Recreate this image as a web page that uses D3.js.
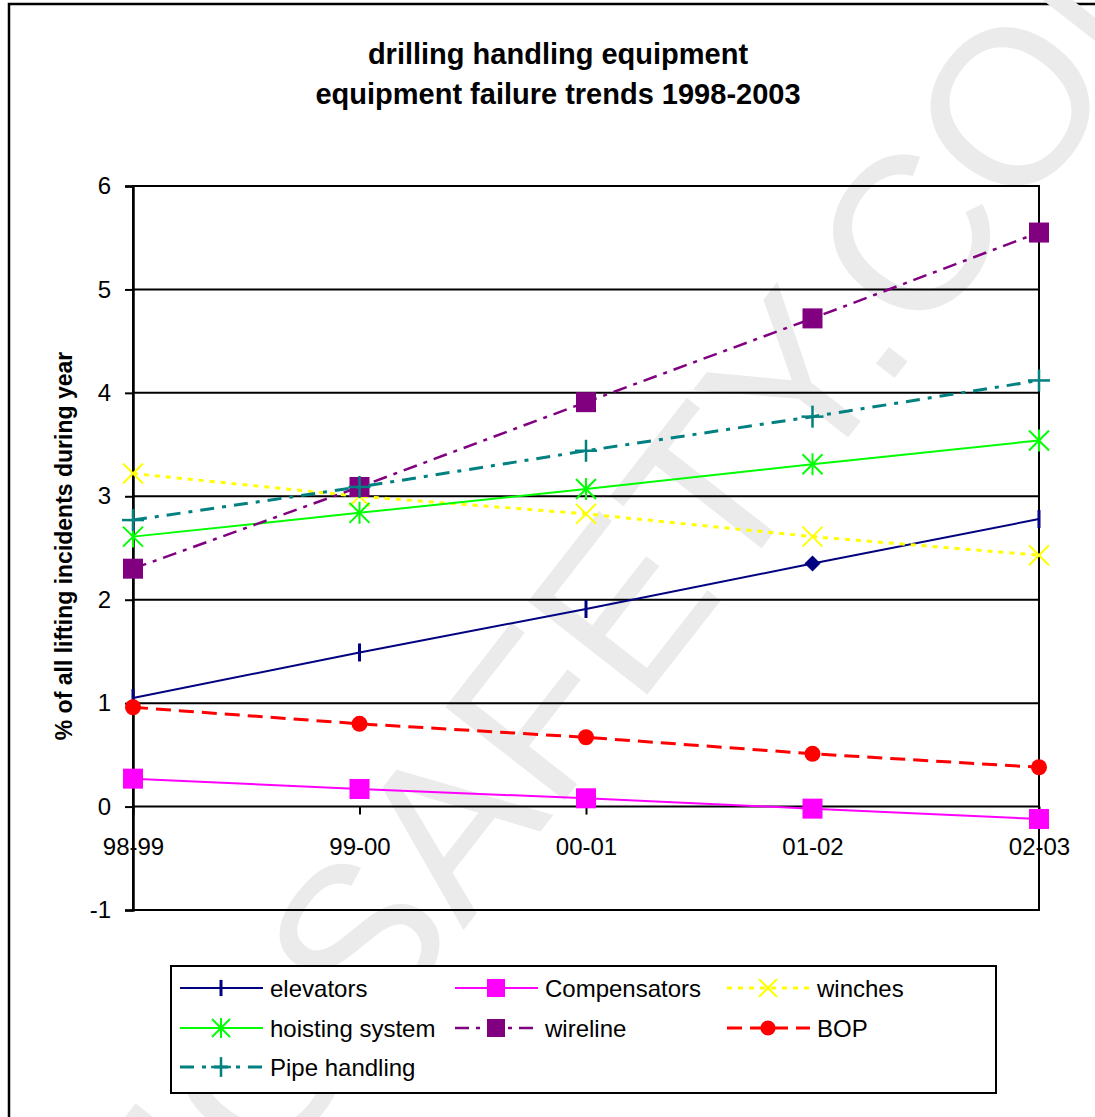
<!DOCTYPE html>
<html>
<head>
<meta charset="utf-8">
<script src="https://cdn.jsdelivr.net/npm/d3@7"></script>
<style>
  body { margin: 0; background: #fff; }
  svg { display: block; }
  text { font-family: Arial, "Liberation Sans", sans-serif; }
</style>
</head>
<body>
<svg id="chart" width="1095" height="1117"></svg>
<script>
// ---- data ----
const periods = ["98-99", "99-00", "00-01", "01-02", "02-03"];
const elevators      = [1.05, 1.49, 1.91, 2.35, 2.78];
const compensators   = [0.27, 0.17, 0.08, -0.02, -0.12];
const winches        = [3.22, 3.00, 2.83, 2.61, 2.43];
const hoistingSystem = [2.61, 2.84, 3.07, 3.31, 3.54];
const wireline       = [2.30, 3.09, 3.91, 4.72, 5.55];
const bop            = [0.96, 0.80, 0.67, 0.51, 0.38];
const pipeHandling   = [2.77, 3.09, 3.44, 3.77, 4.12];
const yTicks = [-1, 0, 1, 2, 3, 4, 5, 6];
const titleLines = ["drilling handling equipment", "equipment failure trends 1998-2003"];
const yLabel = "% of all lifting incidents during year";

// ---- series styling ----
const series = [
  { name: "elevators",       values: elevators,      color: "#000080", width: 2,   dash: null,        marker: "bar", overrides: { 3: "diamond" } },
  { name: "Compensators",    values: compensators,   color: "#FF00FF", width: 2,   dash: null,        marker: "square" },
  { name: "winches",         values: winches,        color: "#FFFF00", width: 3,   dash: "5,6",       marker: "x" },
  { name: "hoisting system", values: hoistingSystem, color: "#00FF00", width: 2,   dash: null,        marker: "asterisk" },
  { name: "wireline",        values: wireline,       color: "#800080", width: 2.5, dash: "14,7,4,7",  marker: "square" },
  { name: "BOP",             values: bop,            color: "#FF0000", width: 3,   dash: "15,8",      marker: "circle" },
  { name: "Pipe handling",   values: pipeHandling,   color: "#008080", width: 3,   dash: "14,8,4,8",  marker: "plus" }
];

const svg = d3.select("#chart");
const W = 1095, H = 1117;
const plot = { left: 133, right: 1039, top: 186, bottom: 910 };

const x = d3.scalePoint().domain(periods).range([plot.left, plot.right]);
const y = d3.scaleLinear().domain([-1, 6]).range([plot.bottom, plot.top]);

// outer frame
svg.append("rect")
  .attr("x", 9).attr("y", 4).attr("width", W + 20).attr("height", H + 20)
  .attr("fill", "#fff").attr("stroke", "#000").attr("stroke-width", 2.5);

// faint site watermark
svg.append("text")
  .attr("transform", "translate(132,1354) rotate(-52)")
  .attr("font-size", 220)
  .attr("fill", "#ebebeb")
  .text("RIGSAFETY.COM");

// title
svg.append("g").selectAll("text").data(titleLines).join("text")
  .attr("x", 558).attr("y", (d, i) => 64 + i * 40)
  .attr("text-anchor", "middle")
  .attr("font-size", 29).attr("font-weight", "bold")
  .text(d => d);

// horizontal gridlines
svg.append("g").selectAll("line").data(yTicks.filter(t => t > -1)).join("line")
  .attr("x1", plot.left).attr("x2", plot.right)
  .attr("y1", d => y(d)).attr("y2", d => y(d))
  .attr("stroke", "#000").attr("stroke-width", 2);

// plot border
svg.append("rect")
  .attr("x", plot.left).attr("y", plot.top)
  .attr("width", plot.right - plot.left).attr("height", plot.bottom - plot.top)
  .attr("fill", "none").attr("stroke", "#000").attr("stroke-width", 2);

// y axis
const yAxis = svg.append("g")
  .attr("transform", `translate(${plot.left},0)`)
  .call(d3.axisLeft(y).tickValues(yTicks).tickSize(8).tickPadding(14).tickFormat(d => String(d)));
yAxis.select(".domain").attr("stroke", "#000").attr("stroke-width", 2.5);
yAxis.selectAll(".tick line").attr("stroke", "#000").attr("stroke-width", 2);
yAxis.selectAll(".tick text").attr("font-size", 24).attr("fill", "#000")
  .attr("font-family", "Arial, 'Liberation Sans', sans-serif");

// x axis at zero
const xAxis = svg.append("g")
  .attr("transform", `translate(0,${y(0)})`)
  .call(d3.axisBottom(x).tickSize(8).tickPadding(23));
xAxis.select(".domain").remove();
xAxis.selectAll(".tick line").attr("stroke", "#000").attr("stroke-width", 2);
xAxis.selectAll(".tick text").attr("font-size", 24).attr("fill", "#000")
  .attr("font-family", "Arial, 'Liberation Sans', sans-serif");

// y axis title
svg.append("text")
  .attr("transform", `translate(72,546) rotate(-90)`)
  .attr("text-anchor", "middle")
  .attr("font-size", 23).attr("font-weight", "bold")
  .text(yLabel);

// marker painter
function drawMarker(g, type, cx, cy, color, scale = 1) {
  const s = scale;
  if (type === "square") {
    g.append("rect").attr("x", cx - 10 * s).attr("y", cy - 10 * s)
      .attr("width", 20 * s).attr("height", 20 * s).attr("fill", color);
  } else if (type === "circle") {
    g.append("circle").attr("cx", cx).attr("cy", cy).attr("r", 8 * s).attr("fill", color);
  } else if (type === "diamond") {
    g.append("path").attr("d", `M${cx},${cy - 8}L${cx + 8},${cy}L${cx},${cy + 8}L${cx - 8},${cy}Z`)
      .attr("fill", color);
  } else {
    const segs = [];
    if (type === "bar") segs.push([0, -9, 0, 9]);
    if (type === "x") segs.push([-10, -10, 10, 10], [-10, 10, 10, -10]);
    if (type === "asterisk") segs.push([0, -11, 0, 11], [-10, -10, 10, 10], [-10, 10, 10, -10]);
    if (type === "plus") segs.push([0, -11, 0, 11], [-11, 0, 11, 0]);
    segs.forEach(([a, b, c, d]) => {
      g.append("line")
        .attr("x1", cx + a * s).attr("y1", cy + b * s)
        .attr("x2", cx + c * s).attr("y2", cy + d * s)
        .attr("stroke", color).attr("stroke-width", type === "bar" ? 3 : (type === "plus" ? 2.5 : 2));
    });
  }
}

// series lines and markers
const line = d3.line().x(d => x(d.period)).y(d => y(d.value));
series.forEach(s => {
  const pts = periods.map((p, i) => ({ period: p, value: s.values[i] }));
  const g = svg.append("g").attr("class", "series");
  g.append("path")
    .attr("d", line(pts))
    .attr("fill", "none")
    .attr("stroke", s.color)
    .attr("stroke-width", s.width)
    .attr("stroke-dasharray", s.dash);
  pts.forEach((d, i) => {
    const type = (s.overrides && s.overrides[i]) || s.marker;
    drawMarker(g, type, x(d.period), y(d.value), s.color);
  });
});

// legend
const legend = svg.append("g");
legend.append("rect")
  .attr("x", 171).attr("y", 966).attr("width", 825).attr("height", 127)
  .attr("fill", "#fff").attr("stroke", "#000").attr("stroke-width", 2);
const colX = [180, 455, 727];
const rowY = [988, 1028, 1067];
series.forEach((s, i) => {
  const lx = colX[i % 3], ly = rowY[Math.floor(i / 3)];
  const g = legend.append("g");
  g.append("line")
    .attr("x1", lx).attr("x2", lx + 83).attr("y1", ly).attr("y2", ly)
    .attr("stroke", s.color).attr("stroke-width", s.width)
    .attr("stroke-dasharray", s.dash);
  drawMarker(g, s.marker, lx + 41, ly, s.color, s.marker === "circle" ? 0.95 : 0.9);
  g.append("text")
    .attr("x", lx + 90).attr("y", ly + 9)
    .attr("font-size", 24)
    .text(s.name);
});
</script>
</body>
</html>
